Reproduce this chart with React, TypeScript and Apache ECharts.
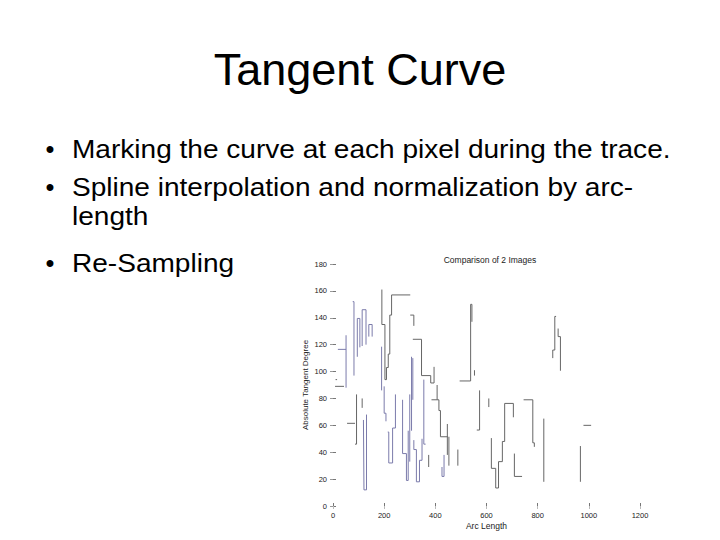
import React, { useEffect, useRef } from "react";
import * as echarts from "echarts";

const slideTitle = "Tangent Curve";
const bulletLines = [
  { bullet: true, text: "Marking the curve at each pixel during the trace.", baseline: 158 },
  { bullet: true, text: "Spline interpolation and normalization by arc-", baseline: 196 },
  { bullet: false, text: "length", baseline: 225 },
  { bullet: true, text: "Re-Sampling", baseline: 272 },
];

const chartTitle = "Comparison of 2 Images";
const xAxisName = "Arc Length";
const yAxisName = "Absolute Tangent Degree";

// visible pieces of the two traces (arc length, degree)
const blueSegments: number[][][] = [
  [[19, 116.5], [51, 116.5]],
  [[51, 127], [51, 88]],
  [[77, 152], [82, 152], [82, 97]],
  [[95, 111], [95, 139.5], [105, 139.5], [105, 118]],
  [[114, 119], [114, 146], [129, 146], [129, 120]],
  [[119, 64], [121, 64], [121, 12], [131, 12], [131, 68]],
  [[140, 126], [140, 135], [153, 135], [153, 126]],
  [[190, 118.5], [190, 86]],
  [[200, 89], [200, 69], [207, 69], [207, 63]],
  [[214, 55], [218, 55], [218, 32], [233, 32], [233, 58], [244, 58], [244, 83]],
  [[272, 79], [272, 39], [287, 39], [287, 19], [294, 19], [294, 56]],
  [[300, 33], [300, 83]],
  [[307, 111], [307, 56]],
  [[312, 110], [312, 79]],
  [[316, 49], [316, 42], [326, 42], [326, 18], [338, 18], [338, 34], [348, 34], [348, 50]],
  [[355, 94], [355, 46], [362, 46]],
  [[426, 29], [426, 22], [434, 22], [434, 38]],
];

const graySegments: number[][][] = [
  [[8, 89], [43, 89]],
  [[10, 94], [16, 94]],
  [[55, 61.5], [86, 61.5]],
  [[86, 46], [92, 46], [92, 83]],
  [[114, 80], [114, 73]],
  [[191, 161], [191, 135], [203, 135], [203, 94], [209, 94], [209, 103], [216, 103], [216, 113], [222, 113], [222, 142], [229, 142], [229, 157], [302, 157]],
  [[302, 142], [316, 142], [316, 134]],
  [[312, 124], [346, 124], [346, 97], [382, 97], [382, 91.5], [395, 91.5], [395, 103.5]],
  [[407, 90], [407, 79]],
  [[385, 79], [414, 79], [414, 71], [420, 71], [420, 51.5], [449, 51.5]],
  [[447, 61], [447, 38]],
  [[453, 51.5], [453, 30]],
  [[374, 38], [374, 29]],
  [[488, 42], [488, 30]],
  [[495, 93], [538, 93], [538, 150], [543, 150], [543, 137]],
  [[553, 101], [553, 97]],
  [[562, 56.5], [573, 56.5], [573, 86]],
  [[609, 80], [609, 73.6]],
  [[619, 50.5], [619, 28], [636, 28], [636, 13.4], [647, 13.4], [647, 33], [662, 33], [662, 48], [671, 48], [671, 76.3], [705, 76.3], [705, 66]],
  [[709, 39], [709, 22], [739, 22]],
  [[745, 79], [781, 79], [781, 47], [787, 47], [787, 44]],
  [[824, 65], [824, 18]],
  [[859, 110], [859, 116], [867, 116], [867, 141], [872, 141]],
  [[880, 132], [880, 126], [889, 126], [889, 100.6]],
  [[979, 60], [1009, 60]],
  [[967, 44.6], [967, 18]],
];

const BLUE = "#7b7bab";
const GRAY = "#666666";
const FONT = "Liberation Sans";

export default function App() {
  const ref = useRef<HTMLDivElement>(null);
  useEffect(() => {
    if (!ref.current) return;
    const chart = echarts.init(ref.current, undefined, { renderer: "svg" });

    const mkSeries = (segs: number[][][], color: string, name: string) =>
      segs.map((s) => ({
        type: "line",
        name,
        xAxisIndex: 0,
        yAxisIndex: 0,
        data: s,
        symbol: "none",
        silent: true,
        lineStyle: { color, width: 1 },
      }));

    const graphics: any[] = [
      {
        type: "text",
        x: 360,
        y: 69,
        style: {
          text: slideTitle,
          fontSize: 45,
          fontFamily: FONT,
          fill: "#000",
          align: "center",
          verticalAlign: "middle",
        },
      },
    ];
    bulletLines.forEach((l) => {
      if (l.bullet) {
        graphics.push({
          type: "text",
          x: 50,
          y: l.baseline - 9,
          style: {
            text: "\u2022",
            fontSize: 25.5,
            fontFamily: FONT,
            fill: "#000",
            align: "center",
            verticalAlign: "middle",
          },
        });
      }
      graphics.push({
        type: "text",
        x: 72,
        y: l.baseline - 9,
        scaleX: 1.1,
        style: {
          text: l.text,
          fontSize: 25.5,
          fontFamily: FONT,
          fill: "#000",
          align: "left",
          verticalAlign: "middle",
        },
      });
    });

    const tickStyle = { inside: true, length: 3, lineStyle: { color: "#777", width: 1 } };

    chart.setOption({
      animation: false,
      backgroundColor: "#fff",
      title: {
        text: chartTitle,
        left: 485,
        top: 250,
        textAlign: "center",
        textStyle: { fontSize: 8.5, fontFamily: FONT, color: "#222", fontWeight: "normal" },
      },
      graphic: graphics,
      grid: { left: 333, right: 80, top: 264, bottom: 34, containLabel: false },
      xAxis: [
        {
          type: "value",
          min: 0,
          max: 1200,
          interval: 200,
          name: xAxisName,
          nameLocation: "middle",
          nameGap: 15,
          nameTextStyle: { fontSize: 8.5, fontFamily: FONT, color: "#222" },
          axisLine: { show: false },
          axisTick: tickStyle,
          axisLabel: {
            fontSize: 7.5,
            fontFamily: FONT,
            color: "#222",
            margin: 5,
            formatter: (v: number) => String(v),
          },
          splitLine: { show: false },
        },
        {
          type: "value",
          position: "top",
          min: 0,
          max: 1200,
          interval: 200,
          axisLine: { show: false },
          axisTick: { ...tickStyle, lineStyle: { color: "#bbb", width: 1 } },
          axisLabel: { show: false },
          splitLine: { show: false },
        },
      ],
      yAxis: [
        {
          type: "value",
          min: 0,
          max: 180,
          interval: 20,
          name: yAxisName,
          nameLocation: "middle",
          nameGap: 24,
          nameRotate: 90,
          nameTextStyle: { fontSize: 8, fontFamily: FONT, color: "#222" },
          axisLine: { show: false },
          axisTick: tickStyle,
          axisLabel: { fontSize: 7.5, fontFamily: FONT, color: "#222", margin: 6 },
          splitLine: { show: false },
        },
        {
          type: "value",
          position: "right",
          min: 0,
          max: 180,
          interval: 20,
          axisLine: { show: false },
          axisTick: { ...tickStyle, lineStyle: { color: "#999", width: 1 } },
          axisLabel: { show: false },
          splitLine: { show: false },
        },
      ],
      series: [...mkSeries(blueSegments, BLUE, "trace 1"), ...mkSeries(graySegments, GRAY, "trace 2")],
    });
    return () => chart.dispose();
  }, []);
  return (
    <div
      ref={ref}
      style={{ position: "absolute", left: 0, top: 0, width: 720, height: 540, background: "#fff" }}
    />
  );
}
